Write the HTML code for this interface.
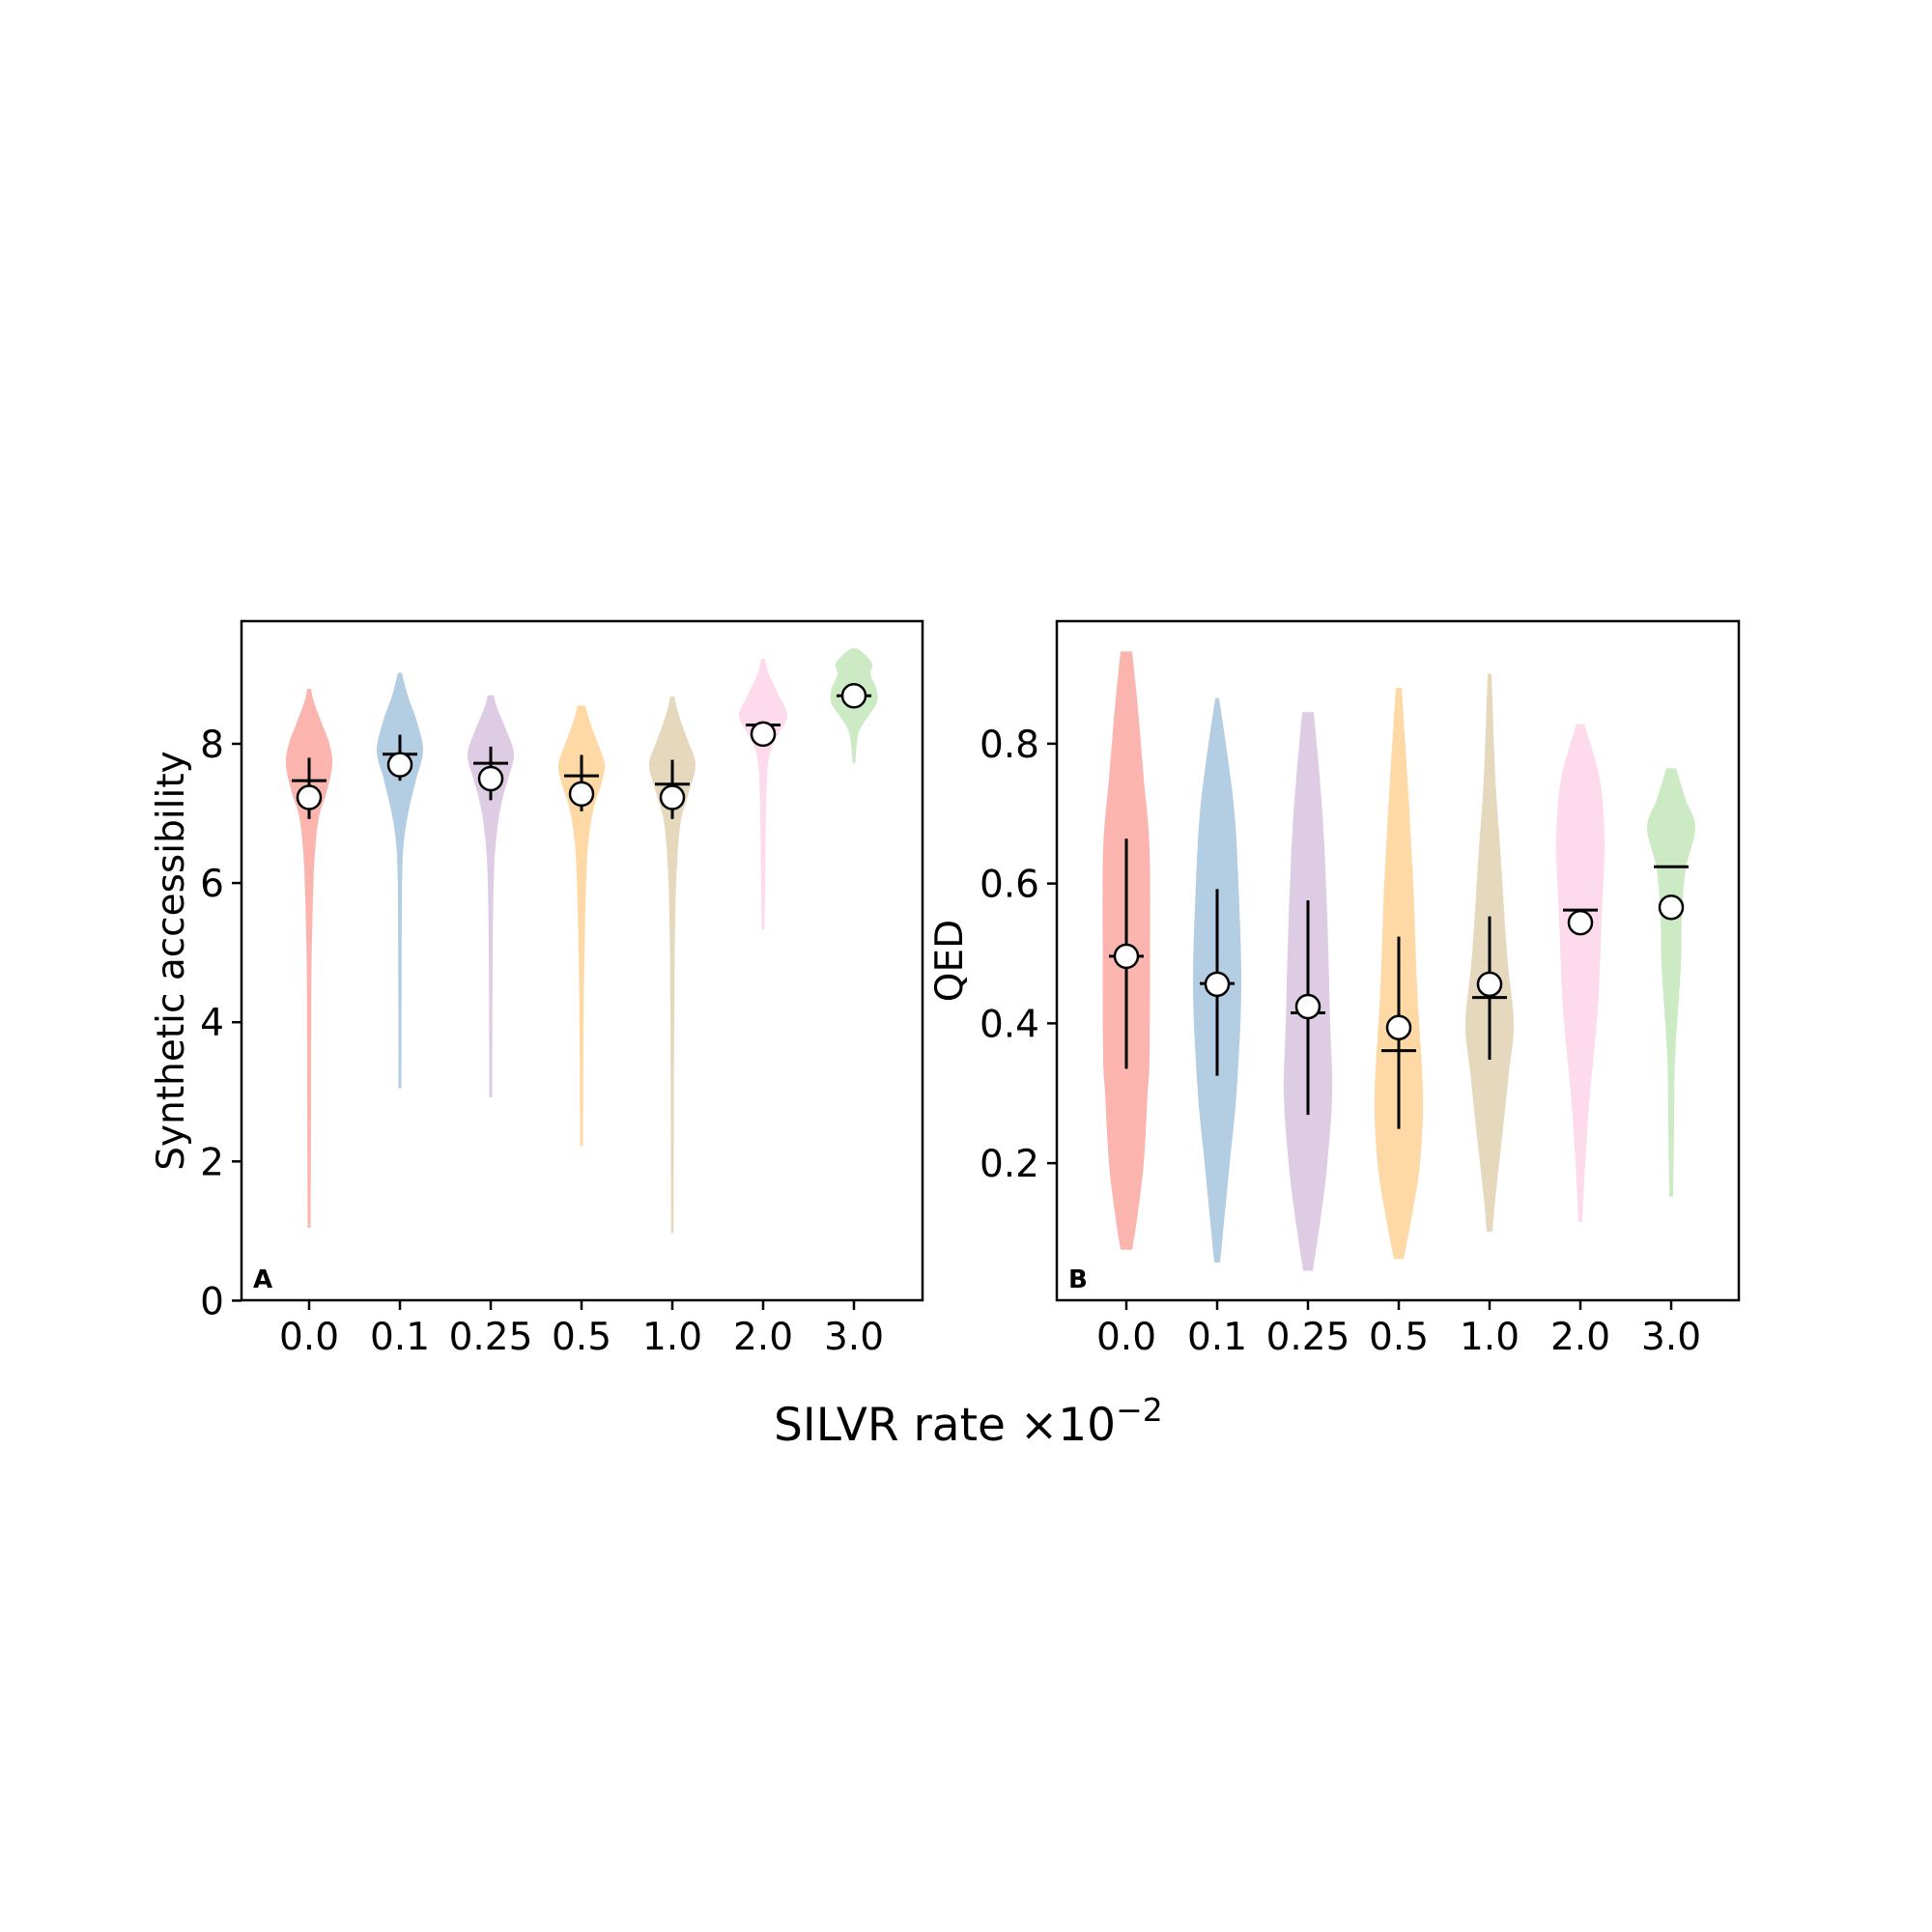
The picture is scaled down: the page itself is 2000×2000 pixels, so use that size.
<!DOCTYPE html>
<html><head><meta charset="utf-8">
<style>
html,body{margin:0;padding:0;background:#fff;}
svg{display:block;font-family:"DejaVu Sans","Liberation Sans",sans-serif;}
</style></head>
<body>
<svg id="chart" width="2000" height="2000" viewBox="0 0 2000 2000" xmlns="http://www.w3.org/2000/svg">
<rect x="0" y="0" width="2000" height="2000" fill="#fff"/>
<g id="gA"></g>
<g id="gB"></g>
<text x="801" y="1491" font-size="47">SILVR rate ×10<tspan dy="-20" font-size="33">−2</tspan></text>
</svg>
<script>
const categories = ["0.0","0.1","0.25","0.5","1.0","2.0","3.0"];
const colors = ["#fbb4ae","#b3cde3","#decbe4","#fed9a6","#e5d8bd","#fddaec","#ccebc5"];
// Panel A: synthetic accessibility; density profiles [value, relative half-width]
const saProfiles = [
 [[1.05,1.5],[3,2],[4.8,2.5],[6,4.5],[6.6,7],[7,11],[7.3,18],[7.7,24],[8.0,21],[8.3,13],[8.6,5],[8.79,2]],
 [[3.05,1.5],[5,1.8],[6.2,2.5],[6.7,5],[7.1,10],[7.5,17],[7.9,24],[8.3,18],[8.7,8],[9.02,2]],
 [[2.92,1.5],[5,2],[6.2,3.5],[6.8,7],[7.2,12],[7.5,18],[7.85,24],[8.2,16],[8.5,7],[8.7,3]],
 [[2.22,1.5],[4.5,2.5],[6.1,5],[6.7,8],[7.1,13],[7.4,20],[7.7,24],[8.0,17],[8.3,9],[8.55,4]],
 [[0.97,1.3],[4,2],[5.5,3],[6.3,5],[6.9,9],[7.3,17],[7.7,24],[8.05,16],[8.4,7],[8.68,2]],
 [[5.33,1.5],[6.5,2.5],[7.3,3.5],[7.8,6],[8.1,14],[8.4,25],[8.7,16],[9.0,6],[9.22,2]],
 [[7.72,1.5],[8.0,3],[8.2,6],[8.4,15],[8.6,24],[8.8,23],[9.0,17],[9.15,19],[9.3,10],[9.37,3]]
];
const saMeans = [7.23,7.70,7.50,7.28,7.23,8.14,8.69];
const saMedians = [7.47,7.85,7.72,7.54,7.42,8.27,8.69];
const saErrHigh = [7.80,8.13,7.96,7.84,7.77,null,null];
const saErrLow = [6.92,7.47,7.19,7.03,6.92,null,null];
const saTicks = [0,2,4,6,8];
// Panel B: QED
const qedProfiles = [
 [[0.076,6],[0.12,11],[0.2,18],[0.3,22],[0.35,24],[0.5,24.5],[0.65,24],[0.75,18],[0.85,12],[0.932,6]],
 [[0.058,3],[0.1,6],[0.2,13],[0.3,20],[0.45,25],[0.6,22],[0.7,18],[0.78,11],[0.865,2]],
 [[0.046,5],[0.12,13],[0.2,20],[0.3,25],[0.4,23],[0.55,20],[0.7,15],[0.845,6]],
 [[0.063,5],[0.12,13],[0.2,22],[0.3,25],[0.45,19],[0.6,15],[0.75,9],[0.88,3]],
 [[0.102,3],[0.15,6],[0.25,14],[0.33,20],[0.4,25],[0.5,18],[0.65,11],[0.75,6],[0.9,2]],
 [[0.116,2],[0.2,5],[0.3,10],[0.42,18],[0.55,22],[0.66,25],[0.75,20],[0.828,4]],
 [[0.152,2],[0.25,3],[0.35,4],[0.48,10],[0.55,11],[0.62,15],[0.68,25],[0.72,15],[0.765,5]]
];
const qedMeans = [0.496,0.456,0.424,0.394,0.456,0.544,0.566];
const qedMedians = [0.496,0.457,0.415,0.361,0.437,0.562,0.624];
const qedErrHigh = [0.664,0.592,0.576,0.524,0.553,null,null];
const qedErrLow = [0.335,0.325,0.269,0.249,0.348,null,null];
const qedTicks = [0.2,0.4,0.6,0.8];
const qedTickLabels = ["0.2","0.4","0.6","0.8"];

const NS="http://www.w3.org/2000/svg";
function mk(tag,attrs,parent){const e=document.createElementNS(NS,tag);for(const k in attrs)e.setAttribute(k,attrs[k]);parent.appendChild(e);return e;}

function panel(g,opt){
  const {left,right,top,bottom,x0,yOf,profiles,means,medians,eh,el,ticks,tickLabels,ylabel,ylabelX,letter}=opt;
  const xOf=i=>x0+94*i;
  profiles.forEach((prof,i)=>{
    const cx=xOf(i);
    const pts=[];
    for(let k=0;k<prof.length-1;k++){
      const p0=prof[Math.max(0,k-1)],p1=prof[k],p2=prof[k+1],p3=prof[Math.min(prof.length-1,k+2)];
      for(let t=0;t<1;t+=0.1){
        const t2=t*t,t3=t2*t;
        const cr=(a,b,c,d)=>0.5*((2*b)+(-a+c)*t+(2*a-5*b+4*c-d)*t2+(-a+3*b-3*c+d)*t3);
        pts.push([cr(p0[0],p1[0],p2[0],p3[0]),Math.max(0.8,cr(p0[1],p1[1],p2[1],p3[1]))]);
      }
    }
    pts.push(prof[prof.length-1]);
    let d="M"+pts.map(p=>(cx+p[1]).toFixed(1)+","+yOf(p[0]).toFixed(1)).join("L");
    d+="L"+pts.slice().reverse().map(p=>(cx-p[1]).toFixed(1)+","+yOf(p[0]).toFixed(1)).join("L")+"Z";
    const v=mk("path",{d:d,fill:colors[i]},g);
    
    
  });
  profiles.forEach((prof,i)=>{
    const cx=xOf(i);
    if(eh[i]!==null){
      const l=mk("line",{x1:cx,x2:cx,y1:yOf(eh[i]),y2:yOf(el[i]),stroke:"#000","stroke-width":3},g);
      
      
    }
    const m=mk("line",{x1:cx-18,x2:cx+18,y1:yOf(medians[i]),y2:yOf(medians[i]),stroke:"#000","stroke-width":3},g);
    
    
    const c=mk("circle",{cx:cx,cy:yOf(means[i]),r:12,fill:"#fff",stroke:"#000","stroke-width":2.5},g);
    
    
  });
  const fr=mk("rect",{x:left,y:top,width:right-left,height:bottom-top,fill:"none",stroke:"#000","stroke-width":2.5},g);
  
  
  categories.forEach((c,i)=>{
    const cx=xOf(i);
    const t=mk("line",{x1:cx,x2:cx,y1:bottom,y2:bottom+10,stroke:"#000","stroke-width":2.5},g);
    
    
    const tx=mk("text",{x:cx,y:1397,"font-size":39,"text-anchor":"middle"},g);
    tx.textContent=c;
    
    
  });
  ticks.forEach((v,i)=>{
    const y=yOf(v);
    const t=mk("line",{x1:left-10,x2:left,y1:y,y2:y,stroke:"#000","stroke-width":2.5},g);
    
    
    const tx=mk("text",{x:left-18,y:y+14,"font-size":39,"text-anchor":"end"},g);
    tx.textContent=tickLabels[i];
    
    
  });
  const yl=mk("text",{x:ylabelX,y:(top+bottom)/2,"font-size":39,"text-anchor":"middle",transform:`rotate(-90 ${ylabelX} ${(top+bottom)/2})`},g);
  yl.textContent=ylabel;
  
  
  const lt=mk("text",{x:left+12,y:bottom-13,"font-size":26,"font-weight":"bold"},g);
  lt.textContent=letter;
  
  
}
panel(document.getElementById("gA"),{left:250,right:955,top:643,bottom:1346,x0:320,
  yOf:v=>1346.4-v*72.05,profiles:saProfiles,means:saMeans,medians:saMedians,eh:saErrHigh,el:saErrLow,
  ticks:saTicks,tickLabels:saTicks.map(String),ylabel:"Synthetic accessibility",ylabelX:190,letter:"A"});
panel(document.getElementById("gB"),{left:1094,right:1800,top:643,bottom:1346,x0:1166,
  yOf:v=>1204.1-(v-0.2)*723.7,profiles:qedProfiles,means:qedMeans,medians:qedMedians,eh:qedErrHigh,el:qedErrLow,
  ticks:qedTicks,tickLabels:qedTickLabels,ylabel:"QED",ylabelX:996,letter:"B"});
</script>
</body></html>
